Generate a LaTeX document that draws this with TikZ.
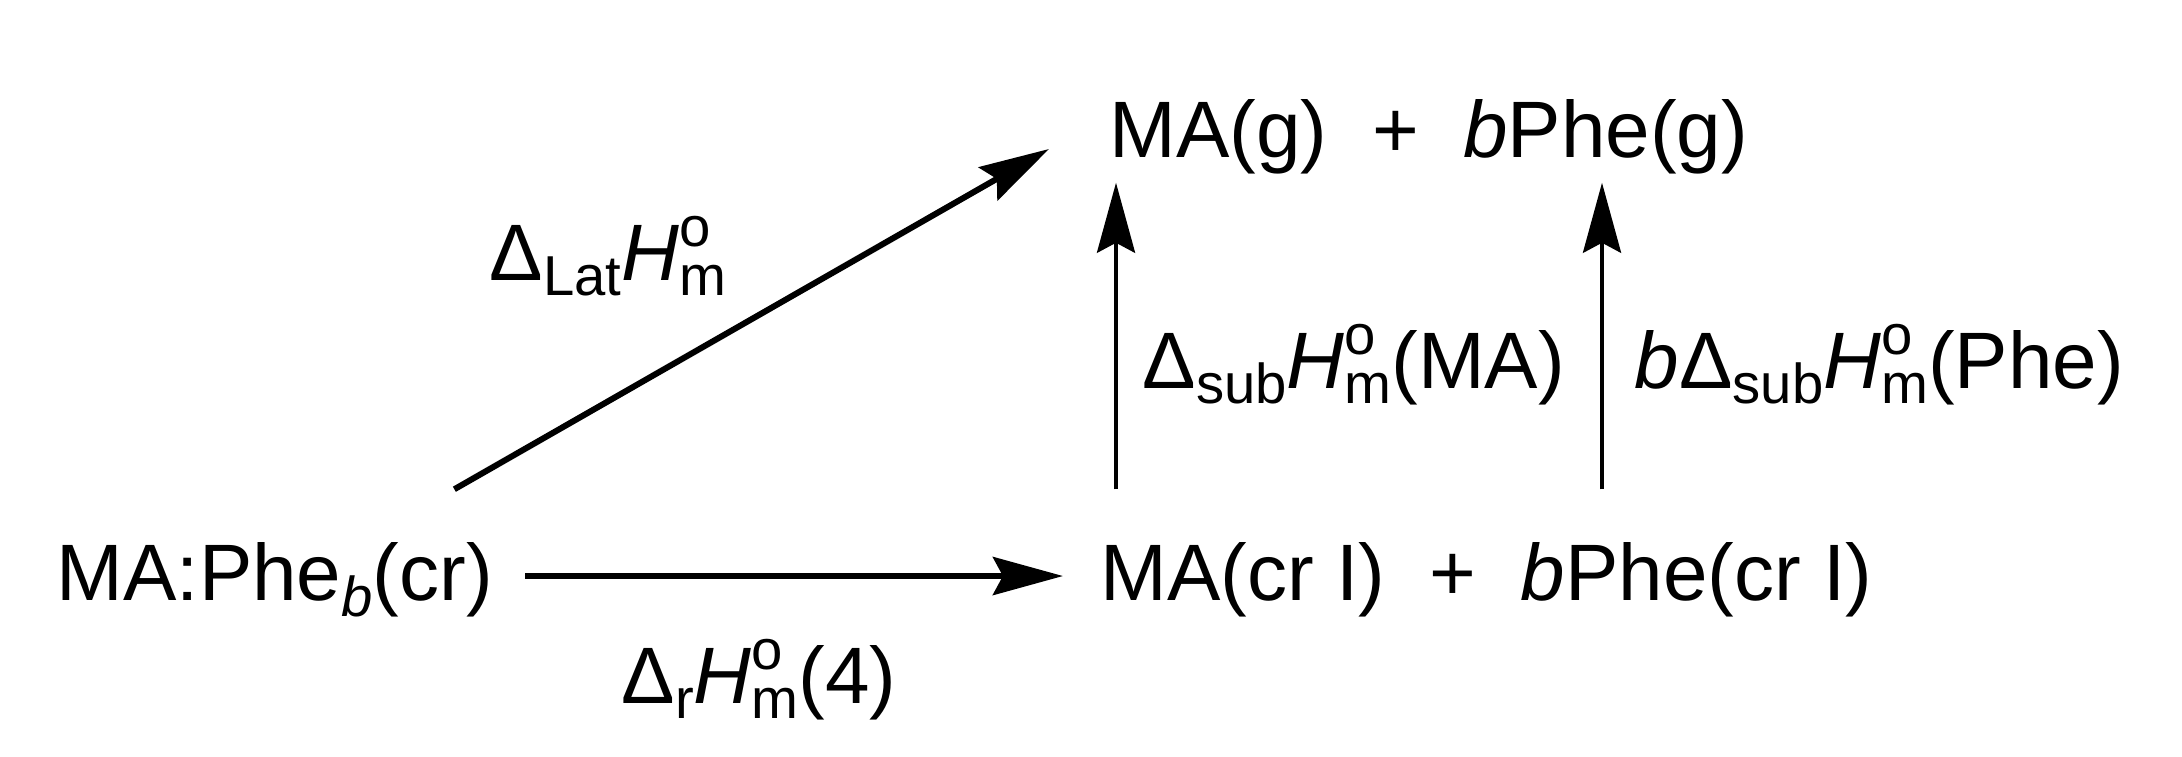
\documentclass[tikz,border=0pt]{standalone}
\usepackage{fontspec}
\setmainfont{Liberation Sans}
\usetikzlibrary{arrows.meta}
\newcommand\scr[1]{{\fontsize{16pt}{16pt}\selectfont #1}}
\newcommand\Dl[1]{Δ\raisebox{-4.3pt}{\scr{#1}}}
\newcommand\Hmo{\textit{H}\rlap{\raisebox{9.4pt}{\scr{o}}}\raisebox{-4.3pt}{\scr{m}}}
\begin{document}
\begin{tikzpicture}[x=0.01cm,y=-0.01cm,
  lbl/.style={inner sep=0,anchor=base west,font=\fontsize{22.76pt}{27pt}\selectfont},
  sp/.style={lbl,text height=0.6cm,text depth=0.2cm},
  arr/.style={-{Stealth[length=0.7cm,width=0.38cm,inset=0.1cm]},line width=0.06cm},
  varr/.style={arr,line width=0.04cm}]
\useasboundingbox[fill=white] (0,0) rectangle (2182,756);
\node[sp] (L) at (56,600) {MA:Phe\raisebox{-4.6pt}{\scr{\textit{b}}}(cr)};
\node[sp] (R) at (1100,600) {MA(cr I)\ \ +\ \ \textit{b}Phe(cr I)};
\node[sp] (T) at (1109,157) {MA(g)\ \ +\ \ \textit{b}Phe(g)};
\node[lbl] (lat) at (489,280) {\Dl{Lat}\Hmo};
\node[lbl] (sma) at (1142,388) {\Dl{sub}\Hmo(MA)};
\node[lbl] (sphe) at (1634,388) {\textit{b}\Dl{sub}\Hmo(Phe)};
\node[lbl] (rr) at (621,703) {\Dl{r}\Hmo(4)};
\draw[arr,shorten <=0.32cm,shorten >=0.37cm] (L.east |- 0,576) -- (R.west |- 0,576);
\draw[varr,shorten <=0.5cm,shorten >=0.05cm] (R.north -| 1116,0) -- (T.south -| 1116,0);
\draw[varr,shorten <=0.5cm,shorten >=0.05cm] (R.north -| 1602,0) -- (T.south -| 1602,0);
\draw[arr] ([xshift=-0.39cm,yshift=0.5cm]L.north east) -- ([xshift=-0.6cm,yshift=0.08cm]T.base west);
\end{tikzpicture}
\end{document}
